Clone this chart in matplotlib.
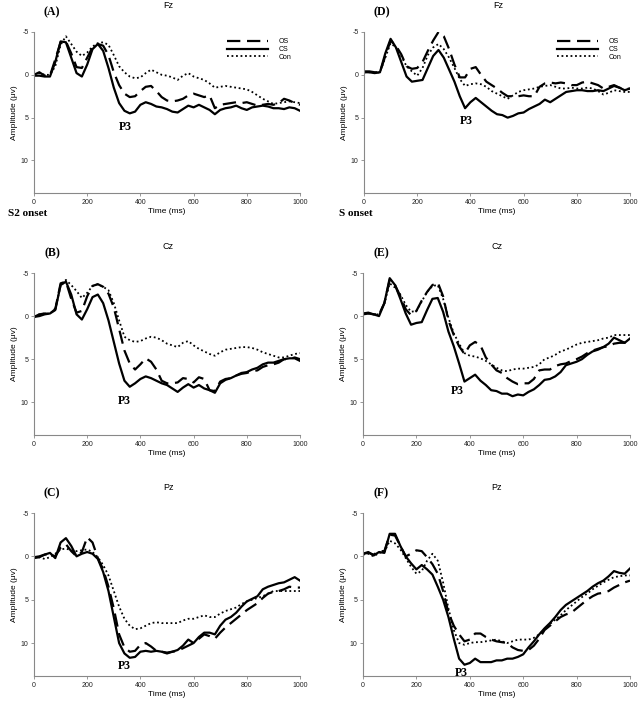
import matplotlib
matplotlib.use("Agg")
import matplotlib.pyplot as plt
import numpy as np

matplotlib.rcParams['axes.unicode_minus'] = False

# time axis (ms), 20 ms steps
time_ms = list(range(0, 1001, 20))

# ---- S2 onset, Fz (A)
A_OS = [0.0, -0.3, 0.1, 0.1, -1.8, -3.8, -3.9, -2.5, -0.9, -0.8, -2.0, -3.2, -3.6, -3.4, -2.3, -0.3, 1.2, 2.2, 2.6, 2.5,
        1.9, 1.4, 1.3, 1.9, 2.6, 3.0, 3.1, 3.0, 2.8, 2.4, 2.2, 2.4, 2.6, 2.4, 3.9, 3.5, 3.4, 3.3, 3.2, 3.3,
        3.2, 3.4, 3.6, 3.5, 3.4, 3.5, 3.3, 2.8, 3.0, 3.3, 3.5]
A_CS = [0.1, 0.1, 0.2, 0.2, -1.5, -3.9, -3.8, -2.0, -0.2, 0.2, -1.2, -3.0, -3.6, -2.8, -0.8, 1.5, 3.3, 4.2, 4.5, 4.3,
        3.5, 3.2, 3.4, 3.7, 3.8, 4.0, 4.3, 4.4, 4.0, 3.6, 3.8, 3.5, 3.8, 4.1, 4.6, 4.1, 3.9, 3.8, 3.6, 3.9,
        4.1, 3.8, 3.7, 3.6, 3.7, 3.9, 3.9, 4.0, 3.8, 3.9, 4.2]
A_Con = [0.0, -0.2, 0.0, 0.0, -1.0, -3.5, -4.5, -3.6, -2.7, -2.2, -2.6, -3.3, -3.7, -3.8, -3.5, -2.3, -1.0, -0.3, 0.2, 0.4,
         0.3, -0.2, -0.6, -0.3, 0.0, 0.1, 0.3, 0.6, 0.1, -0.2, 0.2, 0.4, 0.6, 1.0, 1.5, 1.4, 1.3, 1.4, 1.5, 1.6,
         1.7, 2.0, 2.4, 2.8, 3.1, 3.4, 3.3, 3.2, 3.1, 3.2, 3.3]

# ---- S2 onset, Cz (B)
B_OS = [0.1, -0.2, -0.3, -0.3, -0.8, -3.8, -4.0, -2.0, -0.4, -0.6, -2.3, -3.5, -3.7, -3.4, -2.6, -1.0, 1.5, 4.0, 5.5, 6.2,
        5.6, 4.9, 5.3, 6.2, 7.5, 7.8, 7.8, 7.7, 7.2, 7.3, 7.7, 7.1, 7.3, 8.6, 8.7, 7.6, 7.3, 7.2, 6.9, 6.7,
        6.6, 6.4, 6.3, 5.9, 5.7, 5.6, 5.4, 5.0, 5.0, 4.8, 5.0]
B_CS = [0.1, 0.0, -0.2, -0.3, -0.7, -3.6, -4.0, -2.5, -0.2, 0.4, -0.8, -2.2, -2.5, -1.5, 0.5, 3.0, 5.5, 7.5, 8.2, 7.8,
        7.3, 7.0, 7.2, 7.5, 7.8, 8.0, 8.4, 8.8, 8.3, 7.9, 8.3, 8.0, 8.4, 8.6, 8.9, 7.8, 7.4, 7.2, 6.9, 6.6,
        6.5, 6.2, 6.0, 5.6, 5.4, 5.4, 5.2, 5.0, 4.9, 4.9, 5.2]
B_Con = [0.1, -0.2, -0.3, -0.3, -0.9, -3.5, -4.2, -3.6, -2.9, -2.1, -2.7, -3.5, -3.7, -3.4, -3.0, -1.5, 0.5, 2.4, 2.8, 3.0,
         2.9, 2.6, 2.4, 2.5, 2.8, 3.2, 3.4, 3.6, 3.1, 2.9, 3.4, 3.8, 4.1, 4.4, 4.6, 4.2, 3.9, 3.8, 3.7, 3.6,
         3.6, 3.7, 3.9, 4.2, 4.4, 4.6, 4.8, 4.8, 4.6, 4.4, 4.3]

# ---- S2 onset, Pz (C)
C_OS = [0.2, 0.1, -0.2, -0.3, 0.0, -1.0, -1.4, -0.6, 0.0, -0.5, -2.2, -1.6, 0.2, 1.5, 3.5, 6.0, 9.0, 10.5, 11.0, 10.9,
        10.2, 10.0, 10.4, 10.9, 11.0, 11.1, 11.0, 10.9, 10.6, 10.3, 10.0, 9.5, 9.0, 9.2, 9.5, 8.8, 8.2, 7.7, 7.2, 6.7,
        6.2, 5.8, 5.4, 4.8, 4.3, 4.1, 4.0, 3.8, 3.5, 3.6, 3.6]
C_CS = [0.1, 0.0, -0.2, -0.4, 0.2, -1.6, -2.1, -1.2, 0.0, -0.3, -0.5, -0.3, 0.3, 1.8, 4.0, 7.0, 10.0, 11.2, 11.7, 11.6,
        11.0, 10.9, 11.0, 10.9, 11.0, 11.2, 11.0, 10.8, 10.3, 9.6, 10.0, 9.3, 8.8, 8.8, 9.0, 8.0, 7.3, 7.0, 6.5, 5.8,
        5.2, 4.9, 4.6, 3.8, 3.5, 3.3, 3.1, 3.0, 2.7, 2.4, 2.8]
C_Con = [0.1, 0.1, 0.3, 0.1, -0.3, -0.8, -0.9, -0.7, -0.6, -0.7, -0.8, -0.5, 0.1, 1.0, 2.2, 4.0, 5.8, 7.2, 8.0, 8.4,
         8.3, 8.0, 7.7, 7.6, 7.7, 7.7, 7.7, 7.7, 7.4, 7.2, 7.2, 7.0, 6.8, 7.0, 7.0, 6.6, 6.3, 6.1, 5.9, 5.5,
         5.2, 5.0, 4.8, 4.6, 4.3, 4.0, 4.0, 4.0, 4.0, 4.0, 4.0]

# ---- S onset, Fz (D)
D_OS = [-0.4, -0.4, -0.3, -0.3, -2.2, -4.0, -3.4, -2.4, -1.0, -0.7, -0.8, -1.5, -2.8, -4.0, -5.0, -4.5, -3.0, -1.2, 0.3, 0.3,
        -0.7, -0.9, 0.0, 0.8, 1.2, 1.6, 2.1, 2.5, 2.5, 2.5, 2.4, 2.5, 2.5, 1.4, 1.0, 0.9, 1.0, 0.9, 1.0, 1.2,
        1.2, 0.9, 0.8, 1.0, 1.2, 1.6, 1.4, 1.2, 1.5, 1.7, 1.6]
D_CS = [-0.3, -0.3, -0.2, -0.3, -2.5, -4.2, -3.2, -1.5, 0.2, 0.8, 0.7, 0.6, -0.8, -2.2, -2.9, -2.0, -0.6, 0.8, 2.5, 3.9,
        3.2, 2.7, 3.2, 3.7, 4.2, 4.6, 4.7, 5.0, 4.8, 4.5, 4.4, 4.0, 3.7, 3.4, 2.9, 3.2, 2.8, 2.4, 2.0, 1.9,
        1.8, 1.8, 1.9, 1.9, 1.8, 1.9, 1.6, 1.3, 1.5, 1.8, 1.6]
D_Con = [-0.3, -0.3, -0.2, -0.3, -2.0, -3.7, -3.2, -2.2, -1.0, -0.4, 0.1, -0.8, -2.3, -3.2, -3.6, -3.0, -2.0, -0.8, 0.5, 1.3,
         1.1, 1.0, 1.1, 1.4, 1.9, 2.2, 2.5, 2.8, 2.4, 2.0, 1.8, 1.7, 1.6, 1.4, 1.3, 1.2, 1.4, 1.6, 1.6, 1.5,
         1.6, 1.6, 1.5, 1.6, 1.9, 2.3, 2.1, 1.8, 1.9, 2.0, 2.0]

# ---- S onset, Cz (E)
E_OS = [-0.3, -0.4, -0.2, -0.2, -1.5, -4.2, -3.6, -2.3, -0.8, -0.1, -0.6, -1.8, -2.8, -3.6, -3.9, -2.3, 0.5, 2.2, 3.5, 4.4,
        3.4, 3.0, 3.4, 4.8, 5.6, 6.3, 6.6, 7.2, 7.6, 7.9, 7.8, 7.8, 7.3, 6.3, 6.2, 6.2, 5.8, 5.6, 5.5, 5.2,
        5.0, 4.7, 4.3, 4.0, 3.8, 3.6, 3.5, 3.2, 3.1, 3.1, 2.5]
E_CS = [-0.2, -0.3, -0.2, 0.0, -1.5, -4.4, -3.6, -2.0, -0.3, 1.0, 0.8, 0.7, -0.7, -2.0, -2.1, -0.5, 1.8, 3.5, 5.5, 7.6,
        7.2, 6.8, 7.5, 8.0, 8.6, 8.7, 9.0, 9.0, 9.3, 9.1, 9.2, 8.8, 8.5, 8.0, 7.4, 7.3, 7.0, 6.5, 5.7, 5.5,
        5.3, 5.0, 4.5, 4.1, 3.9, 3.6, 3.2, 2.5, 2.8, 3.1, 2.6]
E_Con = [-0.3, -0.3, -0.2, -0.2, -1.5, -3.8, -3.3, -2.5, -1.3, -0.5, -0.6, -1.7, -2.8, -3.5, -3.6, -2.0, 0.2, 2.0, 3.2, 4.3,
         4.6, 4.7, 4.9, 5.2, 5.6, 6.0, 6.3, 6.4, 6.2, 6.1, 6.1, 6.0, 5.9, 5.6, 5.0, 4.8, 4.5, 4.1, 3.9, 3.6,
         3.3, 3.1, 3.0, 2.9, 2.8, 2.6, 2.5, 2.2, 2.2, 2.2, 2.2]

# ---- S onset, Pz (F)
F_OS = [-0.3, -0.4, -0.2, -0.6, -0.6, -2.5, -2.4, -1.2, 0.0, -0.3, -0.7, -0.6, 0.1, 0.9, 2.0, 4.0, 6.5, 8.0, 9.0, 9.8,
        9.6, 8.9, 8.9, 9.3, 9.6, 9.8, 9.9, 10.0, 10.5, 10.8, 10.9, 10.8, 10.3, 9.5, 8.5, 8.0, 7.5, 7.0, 6.7, 6.5,
        6.0, 5.5, 5.0, 4.6, 4.3, 4.2, 4.0, 3.6, 3.3, 3.0, 2.8]
F_CS = [-0.3, -0.5, -0.1, -0.5, -0.4, -2.6, -2.6, -1.2, 0.0, 0.8, 1.5, 1.0, 1.5, 2.1, 3.5, 5.0, 7.0, 9.5, 11.8, 12.5,
        12.3, 11.8, 12.2, 12.2, 12.2, 12.0, 12.0, 11.8, 11.8, 11.6, 11.3, 10.5, 9.8, 9.0, 8.3, 7.7, 7.0, 6.2, 5.6, 5.2,
        4.8, 4.4, 4.0, 3.5, 3.1, 2.8, 2.3, 1.7, 1.9, 2.0, 1.4]
F_Con = [-0.2, -0.3, 0.0, -0.4, -0.5, -1.8, -1.5, -0.8, 0.2, 1.2, 2.0, 1.7, 0.5, -0.3, 0.5, 3.0, 6.0, 8.5, 10.0, 10.2,
         10.0, 9.9, 9.9, 9.8, 9.7, 9.6, 9.8, 10.0, 9.8, 9.6, 9.6, 9.6, 9.4, 9.0, 8.4, 7.8, 7.3, 6.8, 6.2, 5.7,
         5.2, 4.7, 4.3, 3.8, 3.4, 3.0, 2.7, 2.4, 2.3, 2.2, 2.2]

panel_letters = ["(A)", "(B)", "(C)", "(D)", "(E)", "(F)"]
electrodes = ["Fz", "Cz", "Pz", "Fz", "Cz", "Pz"]
series_names = ["OS", "CS", "Con"]
panel_data = [(A_OS, A_CS, A_Con), (B_OS, B_CS, B_Con), (C_OS, C_CS, C_Con),
              (D_OS, D_CS, D_Con), (E_OS, E_CS, E_Con), (F_OS, F_CS, F_Con)]
p3_pos = [(342, 6.1), (339, 9.8), (341, 12.7), (386, 5.4), (355, 8.75), (368, 13.4)]

W, H = 640, 705
fig = plt.figure(figsize=(W / 100, H / 100), dpi=100)
fig.patch.set_facecolor("white")

serif = "Liberation Serif"
sans = "Liberation Sans"

# axes boxes in pixels: left, top, right, bottom
boxes = [(34, 32, 300, 193), (34, 273, 300, 435), (34, 513, 300, 676),
         (364, 32, 630, 193), (363, 273, 630, 435), (363, 513, 630, 676)]

styles = [dict(color="black", lw=1.6, ls=(0, (6, 3))),
          dict(color="black", lw=1.6, ls="-"),
          dict(color="black", lw=1.3, ls=(0, (1, 1.5)))]

for i, (l, t, r, b) in enumerate(boxes):
    ax = fig.add_axes([l / W, 1 - b / H, (r - l) / W, (b - t) / H])
    for name, vals, st in zip(series_names, panel_data[i], styles):
        ax.plot(time_ms, vals, label=name, **st)
    ax.set_xlim(0, 1000)
    ax.set_ylim(13.8, -5)
    ax.set_xticks(range(0, 1001, 200))
    ax.set_yticks([-5, 0, 5, 10])
    ax.tick_params(labelsize=5, length=2, width=0.6, color="#888888", pad=2, labelcolor="#222222")
    for s in ["top", "right"]:
        ax.spines[s].set_visible(False)
    for s in ["left", "bottom"]:
        ax.spines[s].set_color("#888888")
        ax.spines[s].set_linewidth(0.8)
    for lab in ax.get_xticklabels() + ax.get_yticklabels():
        lab.set_fontfamily(sans)
    ax.set_xlabel("Time (ms)", fontsize=6, family=sans, labelpad=2)
    ax.set_ylabel("Amplitude (\u03bcv)", fontsize=6, family=sans, labelpad=2)
    ax.text(p3_pos[i][0], p3_pos[i][1], "P3", fontsize=8.5, fontweight="bold", family=serif,
            ha="center", va="center")

    # panel letter and electrode title
    fig.text((l + 18) / W, 1 - (t - 20) / H, panel_letters[i], fontsize=8.5, fontweight="bold",
             family=serif, ha="center", va="center")
    fig.text((l + 134) / W, 1 - (t - 26) / H, electrodes[i], fontsize=6.5, family=sans,
             ha="center", va="center")

    if i in (0, 3):
        ax.legend(loc="upper right", bbox_to_anchor=(0.99, 1.0), frameon=False,
                  handlelength=6, handletextpad=1.4, labelspacing=0.1, prop={"family": sans, "size": 5})

fig.text(8 / W, 1 - 213 / H, "S2 onset", fontsize=8, fontweight="bold", family=serif, va="center")
fig.text(339 / W, 1 - 213 / H, "S onset", fontsize=8, fontweight="bold", family=serif, va="center")

plt.savefig("out.png", dpi=100)
plt.close()
